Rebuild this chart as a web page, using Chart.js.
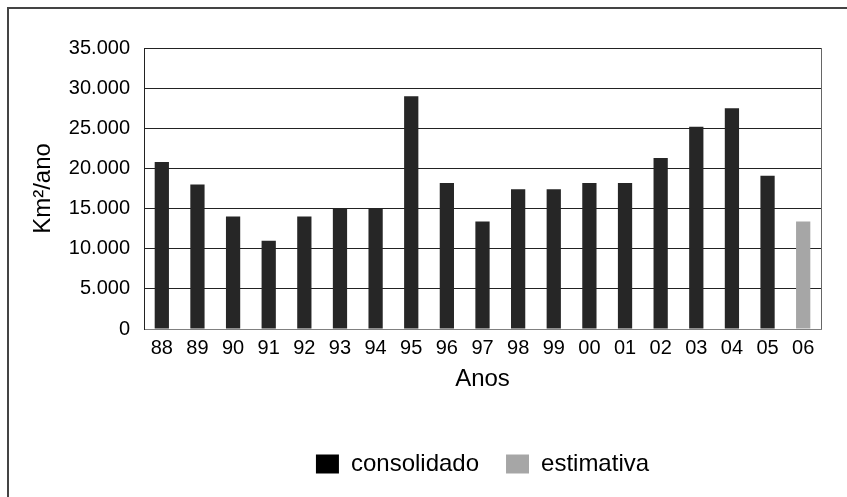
<!DOCTYPE html>
<html>
<head>
<meta charset="utf-8">
<script src="https://cdn.jsdelivr.net/npm/chart.js@4.4.1/dist/chart.umd.min.js"></script>
<style>
  html, body { margin: 0; padding: 0; background: #fff; }
  #wrap { position: relative; width: 847px; height: 497px; overflow: hidden; }
  #frame {
    position: absolute; left: 7px; top: 7px; width: 900px; height: 600px;
    border-left: 2px solid #444; border-top: 2px solid #444;
  }
  canvas { position: absolute; left: 0; top: 0; }
</style>
</head>
<body>
<div id="wrap">
  <div id="frame"></div>
  <canvas id="chart" width="847" height="497"></canvas>
</div>
<script>
// years (two-digit labels)
const years = ["88", "89", "90", "91", "92", "93", "94", "95", "96", "97",
  "98", "99", "00", "01", "02", "03", "04", "05", "06"];

// deforestation per year, km²/ano
const consolidado = [20800, 18000, 14000, 11000, 14000, 15000, 15000, 29000,
  18200, 13400, 17400, 17400, 18200, 18200, 21300, 25200, 27500, 19100, null];
const estimativa = [null, null, null, null, null, null, null, null, null, null,
  null, null, null, null, null, null, null, null, 13400];

const yTicks = [0, 5000, 10000, 15000, 20000, 25000, 30000, 35000];

const font = "'Liberation Sans', Arial, sans-serif";

// outline of the plot area (right side)
const plotBorder = {
  id: "plotBorder",
  afterDraw(chart) {
    const { ctx, chartArea } = chart;
    ctx.save();
    ctx.strokeStyle = "#666";
    ctx.lineWidth = 1;
    ctx.beginPath();
    ctx.moveTo(chartArea.right + 0.5, chartArea.top);
    ctx.lineTo(chartArea.right + 0.5, chartArea.bottom);
    ctx.stroke();
    ctx.restore();
  },
};

new Chart(document.getElementById("chart"), {
  type: "bar",
  data: {
    labels: years,
    datasets: [
      {
        label: "consolidado",
        data: consolidado,
        backgroundColor: "#262626",
        barPercentage: 0.4,
        categoryPercentage: 1,
      },
      {
        label: "estimativa",
        data: estimativa,
        backgroundColor: "#a6a6a6",
        barPercentage: 0.4,
        categoryPercentage: 1,
      },
    ],
  },
  plugins: [plotBorder],
  options: {
    responsive: false,
    animation: false,
    layout: { padding: { left: 29, top: 48, right: 26, bottom: 11 } },
    scales: {
      x: {
        stacked: true,
        grid: { display: false, drawTicks: false },
        border: { color: "#808080", width: 1 },
        ticks: { color: "#000", font: { family: font, size: 20 }, padding: 7, maxRotation: 0, autoSkip: false },
        title: {
          display: true,
          text: "Anos",
          color: "#000",
          font: { family: font, size: 24, lineHeight: 1 },
          padding: { top: 0, bottom: 34 },
        },
      },
      y: {
        stacked: true,
        min: 0,
        max: 35000,
        afterBuildTicks: (scale) => {
          scale.ticks = yTicks.map((v) => ({ value: v }));
        },
        afterFit: (scale) => {
          scale.width = 115;
        },
        grid: { color: "#222", lineWidth: 1, drawTicks: false },
        border: { color: "#222", width: 1 },
        ticks: {
          color: "#000",
          font: { family: font, size: 20 },
          padding: 14,
          callback: (v) => v.toLocaleString("pt-BR"),
        },
        title: {
          display: true,
          text: "Km²/ano",
          color: "#000",
          font: { family: font, size: 24 },
          padding: 0,
        },
      },
    },
    plugins: {
      legend: {
        position: "bottom",
        fullSize: false,
        labels: {
          color: "#000",
          font: { family: font, size: 24 },
          boxWidth: 23,
          boxHeight: 19,
          padding: 27,
          generateLabels: (chart) =>
            chart.data.datasets.map((ds, i) => ({
              text: ds.label,
              fillStyle: i === 0 ? "#000" : ds.backgroundColor,
              strokeStyle: "transparent",
              lineWidth: 0,
              datasetIndex: i,
              fontColor: "#000",
            })),
        },
      },
      tooltip: { enabled: false },
    },
  },
});
</script>
</body>
</html>
